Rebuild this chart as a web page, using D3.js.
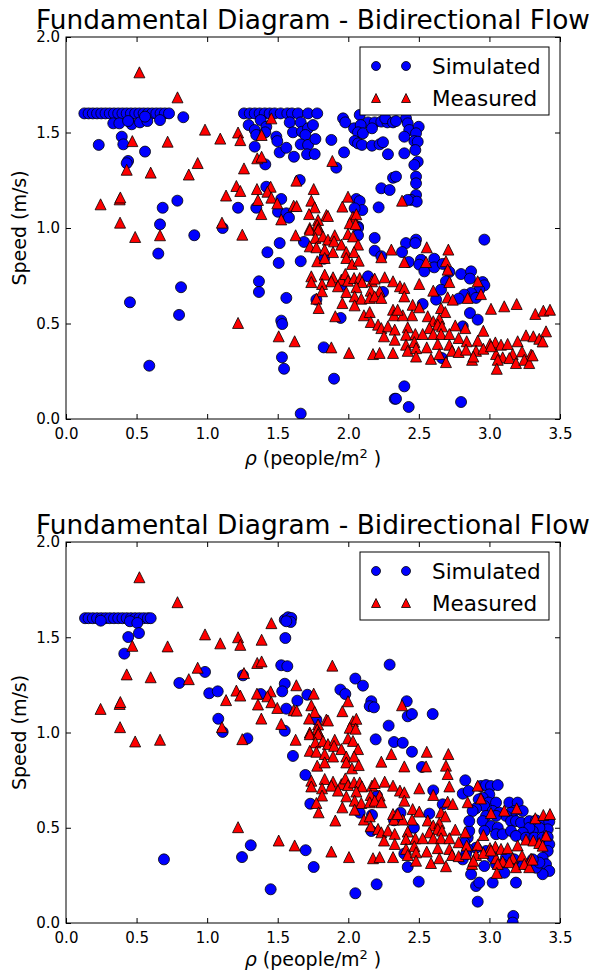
<!DOCTYPE html>
<html>
<head>
<meta charset="utf-8">
<script src="https://cdn.jsdelivr.net/npm/d3@7"></script>
<style>
  body { margin: 0; background: #fff; }
  svg { display: block; font-family: "DejaVu Sans", sans-serif; }
</style>
</head>
<body>
<svg id="chart" width="591" height="971"></svg>
<script>
// tick values
const xTicks = [0, 0.5, 1.0, 1.5, 2.0, 2.5, 3.0, 3.5];
const yTicks = [0, 0.5, 1.0, 1.5, 2.0];

// measured data, identical in both panels: [density, speed]
const measured = [
  [0.52,1.815],[0.79,1.684],[0.985,1.515],[1.093,1.468],[0.47,1.455],[0.72,1.452],[0.933,1.34],[0.43,1.305],
  [0.60,1.29],[0.87,1.28],[0.245,1.124],[0.38,1.15],[0.385,1.16],[1.134,1.17],[0.383,1.028],[1.105,1.028],
  [0.49,0.953],[0.666,0.962],
  [1.455,1.574],[1.219,1.50],[1.235,1.46],[1.386,1.487],[1.355,1.365],[1.386,1.373],[1.261,1.312],[1.887,1.351],
  [1.632,1.248],[1.207,1.22],[1.235,1.194],[1.353,1.204],[1.45,1.216],[1.427,1.19],[1.755,1.204],[1.36,1.147],
  [1.455,1.159],[1.497,1.129],[1.613,1.117],[1.634,1.115],[1.738,1.143],[1.762,1.108],[1.384,1.073],[1.722,1.073],
  [1.845,1.068],[1.856,1.063],[1.958,1.112],[1.998,1.164],[1.525,1.045],[1.786,1.042],[1.78,1.016],[2.033,1.059],
  [2.057,1.072],[2.01,1.025],[2.052,1.02],[1.727,1.0],[1.79,1.0],[2.381,1.143],
  [1.249,0.965],[1.627,0.962],[1.727,0.991],[1.786,0.991],[1.767,0.948],[1.821,0.956],[1.856,0.939],[1.904,0.962],
  [1.899,0.930],[1.951,0.913],[1.998,0.969],[2.033,0.956],[2.069,0.913],[1.727,0.904],[1.774,0.899],[1.833,0.887],
  [1.892,0.874],[1.986,0.874],[2.041,0.874],[1.78,0.826],[1.833,0.843],[1.986,0.843],[2.026,0.812],[2.074,0.829],
  [2.305,0.887],[2.234,0.847],
  [1.738,0.747],[1.738,0.717],[1.833,0.756],[1.892,0.742],[1.88,0.721],[1.951,0.729],[1.979,0.759],[1.998,0.724],
  [2.041,0.738],[2.081,0.738],[2.097,0.717],[2.168,0.721],[2.187,0.735],[2.258,0.742],[2.317,0.721],[1.814,0.707],
  [1.814,0.669],[1.927,0.695],[1.986,0.665],[2.057,0.69],[2.045,0.642],[2.092,0.63],[2.159,0.672],[2.222,0.669],
  [2.152,0.634],[2.187,0.642],[2.234,0.634],[1.774,0.63],[1.79,0.581],[1.958,0.607],[2.045,0.595],[2.111,0.543],
  [2.152,0.56],[2.317,0.572],[2.324,0.543],[1.908,0.538],[2.159,0.508],[2.211,0.494],[2.234,0.476],[2.281,0.485],
  [2.329,0.468],[2.253,0.433],[2.329,0.415],[1.219,0.503],[1.507,0.433],[1.62,0.407],[1.88,0.375],[2.005,0.346],
  [2.175,0.34],[2.222,0.346],[2.317,0.346],
  [2.556,0.899],[2.709,0.887],[2.397,0.822],[2.551,0.822],[2.692,0.826],[2.704,0.782],[2.716,0.717],[2.503,0.707],
  [2.366,0.695],[2.397,0.686],[2.397,0.642],[2.602,0.672],[2.704,0.637],[2.917,0.721],[2.846,0.634],[2.94,0.654],
  [2.74,0.625],[3.011,0.577],[3.105,0.59],[3.193,0.602],[3.325,0.55],[3.382,0.567],[3.429,0.572],
  [2.456,0.598],[2.503,0.585],[2.452,0.543],[2.386,0.543],[2.35,0.572],[2.657,0.581],[2.687,0.56],
  [2.563,0.538],[2.602,0.512],[2.645,0.525],[2.634,0.494],[2.574,0.476],[2.664,0.485],[2.829,0.476],[2.758,0.49],
  [2.957,0.462],[2.421,0.48],[2.409,0.441],[2.475,0.445],[2.527,0.445],[2.602,0.445],[2.657,0.445],[2.716,0.445],
  [2.782,0.424],[2.839,0.407],[2.917,0.41],[3.004,0.393],[3.042,0.401],[3.082,0.389],[3.129,0.393],[3.2,0.407],
  [3.259,0.438],[3.311,0.433],[3.353,0.42],[3.401,0.459],
  [2.409,0.389],[2.468,0.403],[2.556,0.375],[2.634,0.393],[2.716,0.389],[2.735,0.357],[2.782,0.351],[2.834,0.363],
  [2.905,0.357],[2.957,0.368],[3.047,0.34],[3.094,0.323],[3.165,0.34],[3.231,0.354],[3.295,0.337],
  [2.421,0.357],[2.48,0.371],[2.48,0.327],[2.586,0.315],[2.645,0.34],[2.692,0.298],[2.877,0.31],[2.886,0.327],
  [3.059,0.31],[3.052,0.263],[3.141,0.319],[3.188,0.293],[3.247,0.31],[3.282,0.293],[3.306,0.333],[3.377,0.406],
  [3.011,0.381]
];

// simulated data, upper panel
const simulatedTop = [
  [0.13,1.6],[0.16,1.6],[0.19,1.6],[0.22,1.6],[0.25,1.6],[0.28,1.6],[0.31,1.6],[0.34,1.6],[0.37,1.6],[0.40,1.6],
  [0.43,1.6],[0.46,1.6],[0.49,1.6],[0.52,1.6],[0.55,1.6],[0.58,1.6],[0.61,1.6],[0.64,1.6],[0.67,1.6],[0.70,1.6],[0.73,1.6],
  [0.335,1.548],[0.378,1.548],[0.465,1.543],[0.524,1.553],[0.576,1.56],[0.666,1.565],[0.44,1.56],[0.56,1.583],
  [0.831,1.58],[0.395,1.478],[0.406,1.438],[0.232,1.435],[0.56,1.40],[0.44,1.351],[0.43,1.339],[0.789,1.143],
  [0.685,1.106],[0.666,1.019],[1.11,1.0],[0.909,0.962],[0.654,0.866],[0.815,0.69],[0.453,0.611],[0.801,0.545],[0.59,0.279],
  [1.261,1.6],[1.302,1.6],[1.337,1.6],[1.372,1.6],[1.408,1.6],[1.443,1.6],[1.478,1.6],[1.521,1.6],[1.568,1.6],
  [1.601,1.6],[1.644,1.6],[1.715,1.6],[1.78,1.6],
  [1.294,1.539],[1.337,1.513],[1.379,1.565],[1.419,1.53],[1.348,1.487],[1.412,1.501],[1.49,1.478],[1.497,1.455],
  [1.585,1.553],[1.608,1.501],[1.663,1.553],[1.672,1.504],[1.715,1.522],[1.75,1.539],[1.696,1.487],[1.663,1.438],
  [1.715,1.435],[1.767,1.466],[1.337,1.426],[1.514,1.396],[1.561,1.42],[1.615,1.373],[1.708,1.386],[1.762,1.387],
  [1.88,1.461],[1.97,1.396],[1.412,1.333],[1.915,1.316],[1.656,1.251],[1.219,1.106],[1.348,1.106],[1.419,1.216],
  [1.525,1.152],[1.502,1.085],[1.561,1.077],[1.58,1.054],
  [1.963,1.574],[1.979,1.553],[2.081,1.592],[2.14,1.553],[2.187,1.553],[2.041,1.522],[2.088,1.539],[2.069,1.501],
  [2.104,1.496],[2.168,1.522],[2.234,1.557],[2.277,1.553],[2.262,1.574],[2.317,1.553],[2.045,1.455],[2.069,1.443],
  [2.097,1.435],[2.168,1.431],[2.222,1.438],[2.246,1.449],[2.281,1.386],[2.317,1.263],[2.234,1.208],[2.293,1.199],
  [2.057,1.152],[2.081,1.141],[2.099,1.094],[2.045,1.103],[2.215,1.108],[2.069,1.007],
  [2.409,1.574],[2.421,1.548],[2.432,1.513],[2.499,1.53],[2.48,1.496],[2.468,1.455],[2.492,1.452],[2.397,1.478],
  [2.397,1.391],[2.475,1.408],[2.492,1.347],[2.468,1.33],[2.48,1.269],[2.48,1.234],[2.338,1.269],[2.48,1.173],
  [2.444,1.147],[2.485,1.138],[2.421,1.147],[2.338,1.56],
  [1.514,0.921],[1.427,0.873],[1.507,0.817],[1.663,0.826],[1.686,0.927],[1.828,0.839],[2.069,1.0],[2.069,0.962],
  [2.187,0.948],[2.187,0.881],[2.234,0.852],[1.367,0.721],[1.367,0.665],[1.561,0.634],[1.774,0.625],[1.946,0.529],
  [2.14,0.747],[1.951,0.70],[2.246,0.665],[1.525,0.515],[1.532,0.497],[1.826,0.375],[1.53,0.323],[1.545,0.263],
  [1.899,0.211],[2.329,0.106],[1.663,0.028],
  [2.409,0.921],[2.48,0.939],[2.475,0.921],[2.381,0.874],[2.428,0.822],[2.964,0.939],
  [2.515,0.834],[2.503,0.808],[2.539,0.773],[2.609,0.839],[2.609,0.794],[2.669,0.812],[2.716,0.77],[2.692,0.721],
  [2.657,0.677],[2.799,0.759],[2.87,0.773],[2.862,0.735],[2.952,0.717],[2.964,0.70],[2.928,0.677],[2.87,0.66],
  [2.822,0.651],[2.782,0.63],[2.905,0.634],[2.622,0.625],[2.527,0.602],[2.862,0.555],[2.917,0.52],[2.811,0.485],
  [2.664,0.319],[2.397,0.171],[2.338,0.106],[2.428,0.063],[2.799,0.089]
];

// simulated data, lower panel
const simulatedBottom = [
  [0.135,1.6],[0.16,1.6],[0.19,1.6],[0.22,1.6],[0.25,1.6],[0.28,1.6],[0.31,1.6],[0.34,1.6],[0.37,1.6],[0.40,1.6],
  [0.43,1.6],[0.46,1.6],[0.49,1.6],[0.52,1.6],[0.55,1.6],[0.58,1.6],[0.60,1.6],
  [0.246,1.587],[0.453,1.584],[0.505,1.575],[0.441,1.501],[0.517,1.522],[0.413,1.414],[0.803,1.26],[0.985,1.318],
  [1.015,1.206],[1.075,1.216],[1.079,1.072],[1.11,1.003],[0.694,0.334],
  [1.55,1.592],[1.573,1.605],[1.596,1.601],[1.592,1.58],[1.561,1.584],[1.554,1.496],[1.525,1.353],[1.568,1.348],
  [1.254,1.30],[1.55,1.256],[1.532,1.216],[1.379,1.202],[1.639,1.167],[1.71,1.198],[1.561,1.125],[1.774,1.067],
  [1.55,1.009],[1.944,1.225],[1.979,1.202],[2.05,1.283],[2.104,1.246],[2.293,1.356],[2.163,1.164],[2.152,1.138],
  [2.182,1.132],[2.286,1.036],[2.414,1.164],[2.421,1.085],[2.451,1.097],[2.598,1.097],
  [1.285,0.969],[2.194,0.964],[2.324,0.95],[1.608,0.877],[1.696,0.777],[1.731,0.626],[2.081,0.579],[2.168,0.567],
  [2.163,0.483],[2.324,0.539],[1.309,0.408],[1.247,0.346],[1.698,0.382],[1.755,0.294],[1.45,0.177],[2.05,0.156],
  [2.201,0.203],[2.204,0.667],
  [2.386,0.946],[2.451,0.899],[2.522,0.819],[2.602,0.696],[2.669,0.623],[2.37,0.579],[2.465,0.50],[2.397,0.364],
  [2.421,0.294],[2.499,0.217],[2.574,0.574],[2.829,0.749],[2.811,0.679],[2.853,0.693],
  [2.94,0.719],[2.976,0.724],[3.011,0.719],[3.059,0.724],[2.999,0.675],[2.952,0.658],[2.924,0.649],[2.995,0.632],
  [3.047,0.632],[2.964,0.614],[2.905,0.602],[2.881,0.588],[3.023,0.588],[3.07,0.579],[3.141,0.632],[3.2,0.632],
  [3.176,0.588],[3.236,0.588],[3.153,0.579],[3.117,0.562],[3.047,0.562],[2.976,0.562],[2.952,0.535],[3.011,0.509],
  [2.964,0.483],[3.059,0.50],[3.047,0.466],[3.094,0.466],[3.153,0.535],[3.188,0.535],[3.224,0.527],[3.283,0.535],
  [3.33,0.539],[3.377,0.527],[3.424,0.532],[3.413,0.492],[3.354,0.50],[3.307,0.483],[3.283,0.50],[3.236,0.474],
  [3.153,0.483],[3.188,0.457],[3.259,0.448],[3.318,0.448],[3.377,0.448],[3.413,0.451],[3.424,0.413],[3.413,0.378],
  [3.377,0.343],[3.401,0.308],[3.424,0.273],[3.377,0.256],[3.33,0.29],[3.354,0.317],[3.307,0.334],[3.259,0.308],
  [3.212,0.317],[3.176,0.334],[3.117,0.343],[3.094,0.308],[3.047,0.308],[3.023,0.343],[2.976,0.378],[2.905,0.395],
  [2.846,0.448],[2.846,0.387],[2.857,0.483],[2.857,0.535],[2.822,0.422],[2.834,0.361],[2.811,0.334],[2.87,0.256],
  [2.905,0.194],[2.928,0.212],[2.917,0.112],[3.023,0.212],[3.106,0.264],[3.188,0.212],[2.964,0.299],[3.169,0.037],
  [3.165,0.002]
];

const svg = d3.select('#chart');
const plotLeft = 66, plotRight = 560;
const panels = [
  { top: 37, bottom: 419, labelGap: 46, simulated: simulatedTop },
  { top: 542, bottom: 923, labelGap: 43, simulated: simulatedBottom },
];

const triangle = (s) => `M0,${-s}L${s},${s}L${-s},${s}Z`;

const drawPanel = (panel, i) => {
  const g = svg.append('g');
  const xs = d3.scaleLinear().domain([0, 3.5]).range([plotLeft, plotRight]);
  const ys = d3.scaleLinear().domain([0, 2]).range([panel.bottom, panel.top]);
  const fmt = d3.format('.1f');

  g.append('clipPath').attr('id', `clip${i}`)
    .append('rect')
    .attr('x', plotLeft).attr('y', panel.top)
    .attr('width', plotRight - plotLeft).attr('height', panel.bottom - panel.top);

  const pts = g.append('g').attr('clip-path', `url(#clip${i})`);
  pts.selectAll('circle')
    .data(panel.simulated)
    .enter()
    .append('circle')
    .attr('cx', d => xs(d[0]))
    .attr('cy', d => ys(d[1]))
    .attr('r', 5.5)
    .attr('fill', '#0000ff')
    .attr('stroke', '#000')
    .attr('stroke-width', 0.8);

  pts.selectAll('path')
    .data(measured)
    .enter()
    .append('path')
    .attr('d', triangle(5.5))
    .attr('transform', d => `translate(${xs(d[0])},${ys(d[1])})`)
    .attr('fill', '#ff0000')
    .attr('stroke', '#000')
    .attr('stroke-width', 0.8);

  // axes with inward ticks on all sides
  const styleAxis = (sel) => {
    sel.select('.domain').remove();
    sel.selectAll('line').attr('stroke', '#000');
    sel.selectAll('text').attr('fill', '#000').style('font-size', '15px')
      .style('font-family', '"DejaVu Sans", sans-serif');
  };
  g.append('g').attr('transform', `translate(0,${panel.bottom})`)
    .call(d3.axisBottom(xs).tickValues(xTicks).tickFormat(fmt).tickSizeInner(-5).tickSizeOuter(0).tickPadding(9))
    .call(styleAxis);
  g.append('g').attr('transform', `translate(0,${panel.top})`)
    .call(d3.axisTop(xs).tickValues(xTicks).tickFormat('').tickSizeInner(-5).tickSizeOuter(0))
    .call(styleAxis);
  g.append('g').attr('transform', `translate(${plotLeft},0)`)
    .call(d3.axisLeft(ys).tickValues(yTicks).tickFormat(fmt).tickSizeInner(-5).tickSizeOuter(0).tickPadding(6))
    .call(styleAxis);
  g.append('g').attr('transform', `translate(${plotRight},0)`)
    .call(d3.axisRight(ys).tickValues(yTicks).tickFormat('').tickSizeInner(-5).tickSizeOuter(0))
    .call(styleAxis);

  g.append('rect')
    .attr('x', plotLeft).attr('y', panel.top)
    .attr('width', plotRight - plotLeft).attr('height', panel.bottom - panel.top)
    .attr('fill', 'none').attr('stroke', '#000').attr('stroke-width', 1);

  const midX = (plotLeft + plotRight) / 2;
  g.append('text')
    .attr('x', midX).attr('y', panel.top - 8)
    .attr('text-anchor', 'middle')
    .style('font-size', '26.4px')
    .text('Fundamental Diagram - Bidirectional Flow');

  g.append('g')
    .attr('transform', `translate(26,${(panel.top + panel.bottom) / 2})`)
    .append('text')
    .attr('text-anchor', 'middle')
    .attr('transform', 'rotate(-90)')
    .style('font-size', '19px')
    .text('Speed (m/s)');

  const xl = g.append('text')
    .attr('x', midX).attr('y', panel.bottom + panel.labelGap)
    .attr('text-anchor', 'middle')
    .style('font-size', '19px');
  xl.append('tspan').style('font-style', 'italic').text('ρ');
  xl.append('tspan').text(' (people/m');
  xl.append('tspan').attr('dy', -7).style('font-size', '13px').text('2');
  xl.append('tspan').attr('dy', 7).text(' )');

  // legend
  const lg = g.append('g').attr('transform', `translate(360,${panel.top + 10})`);
  lg.append('rect').attr('width', 189).attr('height', 68)
    .attr('fill', '#fff').attr('stroke', '#000').attr('stroke-width', 1);
  [16, 46].forEach(mx => {
    lg.append('circle').attr('cx', mx).attr('cy', 19).attr('r', 4.5)
      .attr('fill', '#0000ff').attr('stroke', '#000').attr('stroke-width', 0.8);
    lg.append('path').attr('d', triangle(4.5)).attr('transform', `translate(${mx},51)`)
      .attr('fill', '#ff0000').attr('stroke', '#000').attr('stroke-width', 0.8);
  });
  lg.append('text').attr('x', 72).attr('y', 27).style('font-size', '21.5px').text('Simulated');
  lg.append('text').attr('x', 72).attr('y', 59).style('font-size', '21.5px').text('Measured');
};

panels.forEach(drawPanel);
</script>
</body>
</html>
